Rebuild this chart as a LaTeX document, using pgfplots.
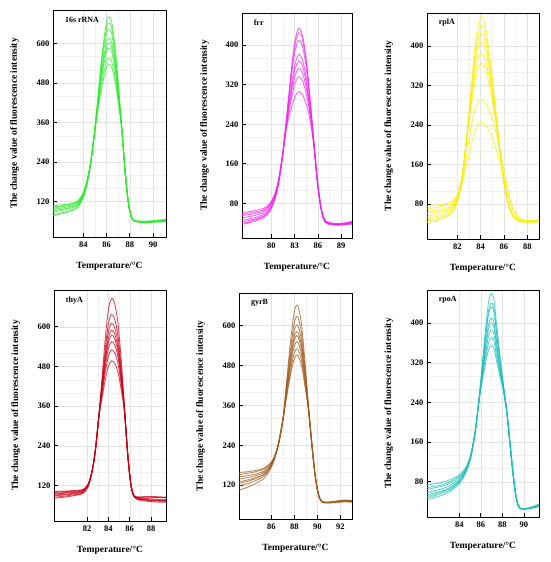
\documentclass[border=0pt]{standalone}
\usepackage{fontspec}
\setmainfont{Liberation Serif}
\usepackage{pgfplots}
\usepackage{pgfplotstable}
\pgfplotsset{compat=1.18}

\definecolor{cA}{RGB}{45,235,45}
\definecolor{cB}{RGB}{238,40,238}
\definecolor{cC}{RGB}{250,238,0}
\definecolor{cD}{RGB}{200,0,20}
\definecolor{cE}{RGB}{160,90,30}
\definecolor{cF}{RGB}{30,190,185}

\pgfplotstableread{
x a b c d e f g h
81.4 92 100 88 104 80 96 77 107
82.0 96 104 92 107 85 100 83 110
82.6 100 107 97 110 90 103 88 112
83.2 106 112 103 115 98 109 96 117
83.6 115 120 112 122 108 117 106 125
84.0 140 143 138 146 135 141 132 148
84.3 175 177 174 180 172 176 170 182
84.6 230 230 229 232 228 231 227 233
84.9 310 310 309 312 308 311 307 313
85.2 415 411 408 402 399 396 390 386
85.5 530 520 509 495 486 478 462 451
85.8 620 605 589 567 555 542 518 501
86.1 678 660 640 613 599 584 554 534
86.4 670 652 633 607 593 578 549 530
86.7 600 586 571 551 540 528 505 490
87.0 480 473 465 454 449 443 431 423
87.3 345 345 344 343 342 341 340 338
87.6 210 210 209 208 208 207 206 205
87.9 110 110 109 110 109 109 108 108
88.2 68 68 67 69 68 67 67 67
88.6 60 61 59 62 60 60 59 61
89.3 58 59 57 61 58 59 57 60
90.2 60 61 59 63 59 62 58 61
91.1 63 64 61 66 60 67 59 62
}\tA

\pgfplotstableread{
x a b c d e f g h
76.0 45 55 39 61 42 50 37 57
77.0 48 57 42 63 45 53 40 60
78.0 52 60 47 66 49 56 45 63
79.0 58 65 53 70 55 62 51 67
79.8 70 76 66 80 68 73 64 78
80.5 95 99 92 102 94 97 91 100
81.0 130 132 128 135 129 131 127 133
81.5 185 186 184 188 184 185 183 186
82.0 260 258 256 250 248 245 242 236
82.5 340 335 327 310 303 295 285 268
83.0 405 397 384 359 348 335 320 294
83.5 434 425 410 381 368 353 336 306
84.0 420 412 398 370 358 344 328 300
84.5 370 364 353 333 324 313 301 280
85.0 290 287 282 273 268 263 258 248
85.5 200 200 199 197 196 195 194 192
86.0 115 116 114 116 114 115 113 115
86.5 62 63 61 64 62 63 61 64
87.0 42 43 41 44 42 43 41 44
87.8 38 39 37 40 38 39 37 40
88.6 37 38 36 39 37 37 36 39
89.5 38 39 37 41 38 39 37 40
90.4 40 42 39 44 40 41 38 43
}\tB

\pgfplotstableread{
x a b c d e f g h
79.4 50 70 42 60 75 45 55 64
80.0 53 72 45 63 77 48 58 66
80.6 57 75 50 66 79 53 62 69
81.2 62 78 56 70 82 58 67 73
81.7 72 85 67 79 88 69 76 81
82.1 95 103 92 99 105 93 97 100
82.4 130 134 128 132 135 129 125 120
82.7 190 192 189 191 193 189 165 148
83.0 265 261 259 256 251 247 210 180
83.3 345 335 327 319 306 296 250 210
83.6 415 400 387 375 355 338 278 233
84.0 459 440 425 410 385 365 292 245
84.4 440 423 409 395 372 354 285 240
84.8 375 363 353 343 327 314 265 225
85.2 290 284 280 276 268 262 235 200
85.6 200 200 198 199 196 195 195 170
86.0 125 126 124 126 125 124 150 135
86.4 78 79 77 79 79 77 100 100
86.8 55 56 54 56 57 54 66 70
87.3 46 47 45 47 48 45 50 52
87.9 44 45 43 45 46 43 45 46
88.5 44 45 43 46 46 43 45 46
89.0 45 46 44 47 47 44 46 47
}\tC

\pgfplotstableread{
x a b c d e f g h
78.9 95 85 100 82 97 89 102 92
79.6 96 87 101 84 98 91 103 93
80.3 98 90 102 87 100 93 104 95
81.0 100 93 104 91 102 96 106 98
81.6 103 97 107 96 105 100 108 101
82.1 121 118 124 117 122 120 125 120
82.5 168 167 170 166 169 168 170 168
82.8 233 232 234 231 233 232 234 232
83.1 328 327 329 326 328 327 328 327
83.4 445 429 421 414 409 403 395 384
83.7 562 531 513 500 490 477 461 439
84.0 652 609 584 566 552 534 511 481
84.3 685 637 610 590 575 555 530 497
84.6 668 622 597 577 563 544 520 489
84.9 610 572 551 535 523 508 488 462
85.2 500 477 464 454 447 438 426 410
85.5 360 356 354 352 351 349 347 344
85.8 220 219 220 219 218 219 218 218
86.1 125 126 124 126 124 125 124 125
86.4 88 90 86 89 87 88 87 89
86.9 80 86 76 82 78 81 79 84
87.5 78 87 73 82 76 80 77 85
88.2 76 87 71 83 74 79 75 85
88.8 75 86 70 84 73 78 74 84
89.4 75 85 70 84 72 78 74 83
}\tD

\pgfplotstableread{
x a b c d e f g h
83.2 130 158 105 145 118 152 125 138
83.9 135 160 113 148 124 155 131 142
84.6 142 164 124 153 133 160 139 148
85.3 152 170 138 161 145 167 150 157
85.8 170 182 160 176 165 180 168 173
86.2 195 200 190 197 192 199 194 196
86.6 240 242 238 241 239 242 240 241
87.0 315 316 314 315 314 316 315 315
87.3 420 411 404 398 395 390 384 379
87.6 530 509 494 482 475 464 450 439
87.9 620 590 568 550 540 524 505 489
88.1 655 622 597 577 565 547 526 508
88.3 659 625 600 580 568 550 528 510
88.6 610 581 560 543 532 517 499 483
88.9 500 482 470 459 453 444 432 423
89.2 370 366 363 360 359 357 354 352
89.5 250 250 249 250 249 250 249 249
89.8 150 150 149 151 150 150 150 150
90.1 90 91 90 91 90 91 90 90
90.4 70 71 69 71 70 71 70 70
90.9 67 68 66 68 67 69 67 68
91.6 69 70 68 71 69 72 68 70
92.3 72 73 70 74 71 75 70 72
93.0 70 72 69 73 70 74 69 71
}\tE

\pgfplotstableread{
x a b c d e f g h
81.0 58 73 43 64 50 68 54 47
81.7 62 76 48 68 55 71 58 52
82.4 66 79 53 71 60 74 62 57
83.1 72 84 60 77 66 80 68 63
83.7 80 90 70 84 75 87 77 73
84.2 90 98 82 93 86 95 88 84
84.7 108 113 103 110 106 111 107 105
85.1 135 138 132 136 134 137 134 133
85.5 185 186 184 185 184 186 185 184
85.8 240 240 239 240 239 240 239 239
86.1 310 305 302 296 293 289 284 280
86.4 380 368 363 350 343 334 325 315
86.7 440 423 415 396 386 373 359 345
86.95 459 440 432 410 400 385 370 355
87.2 450 432 424 403 394 379 365 350
87.5 390 377 372 357 351 340 330 320
87.8 330 323 320 311 307 302 296 290
88.1 275 273 272 269 268 266 264 263
88.4 225 225 224 223 223 222 222 221
88.7 160 160 159 159 158 158 157 157
89.0 95 95 94 95 94 95 94 94
89.3 45 46 45 46 45 46 45 45
89.6 27 28 27 28 27 28 27 27
90.1 25 26 25 26 25 26 25 25
90.8 28 29 27 29 28 30 28 27
91.4 32 33 31 34 31 35 32 30
}\tF

\pgfplotsset{
  panel/.style={
    scale only axis,
    anchor=south west,
    axis line style={line width=0.9pt},
    tick pos=left, tick align=inside,
    major tick length=4pt, minor tick length=0pt,
    tick style={line width=0.8pt, black},
    grid=both,
    major grid style={black!11, line width=0.4pt},
    minor grid style={black!6, line width=0.3pt},
    minor x tick num=1, minor y tick num=2,
    ticklabel style={font=\bfseries\fontsize{8.5}{9}\selectfont},
    xticklabel style={yshift=-1.5pt},
    /pgf/number format/assume math mode=true,
    xlabel={Temperature/°C},
    ylabel={The change value of fluorescence intensity},
    label style={font=\bfseries\fontsize{9.5}{10}\selectfont},
    xlabel style={at={(axis description cs:0.5,0)}, anchor=center, yshift=-29pt},
    ylabel style={at={(axis description cs:-0.34,0.5)}, anchor=center},
    title style={at={(axis description cs:0.075,0.93)}, anchor=west, font=\bfseries\fontsize{8}{9}\selectfont},
  },
  crv/.style={line width=0.9pt, opacity=0.7, smooth, tension=0.5},
}

\begin{document}
\begin{tikzpicture}
\path[use as bounding box] (0,0) rectangle (550pt,562pt);

\begin{axis}[panel, at={(53pt,325pt)}, width=113pt, height=227pt,
  xmin=81.4, xmax=91.1, ymin=13, ymax=701,
  xtick={84,86,88,90}, ytick={120,240,360,480,600}, title={16s rRNA}]
\pgfplotsinvokeforeach{a,b,c,d,e,f,g,h}{\addplot[cA, crv] table[x=x,y=#1]{\tA};}
\end{axis}

\begin{axis}[panel, at={(242pt,324pt)}, width=110pt, height=225pt,
  xmin=76.2, xmax=90.4, ymin=10, ymax=465,
  xtick={80,83,86,89}, ytick={80,160,240,320,400}, title={frr}]
\pgfplotsinvokeforeach{a,b,c,d,e,f,g,h}{\addplot[cB, crv] table[x=x,y=#1]{\tB};}
\end{axis}

\begin{axis}[panel, at={(427pt,323pt)}, width=112pt, height=226pt,
  xmin=79.4, xmax=89.0, ymin=9, ymax=467,
  xtick={82,84,86,88}, ytick={80,160,240,320,400}, title={rplA}]
\pgfplotsinvokeforeach{a,b,c,d,e,f,g,h}{\addplot[cC, crv] table[x=x,y=#1]{\tC};}
\end{axis}

\begin{axis}[panel, at={(54pt,41pt)}, width=112pt, height=231pt,
  xmin=78.9, xmax=89.4, ymin=13, ymax=711,
  xtick={82,84,86,88}, ytick={120,240,360,480,600}, title={thyA}]
\pgfplotsinvokeforeach{a,b,c,d,e,f,g,h}{\addplot[cD, crv] table[x=x,y=#1]{\tD};}
\end{axis}

\begin{axis}[panel, at={(239pt,43pt)}, width=113pt, height=226pt,
  xmin=83.2, xmax=93.0, ymin=18, ymax=698,
  xtick={86,88,90,92}, ytick={120,240,360,480,600}, title={gyrB}]
\pgfplotsinvokeforeach{a,b,c,d,e,f,g,h}{\addplot[cE, crv] table[x=x,y=#1]{\tE};}
\end{axis}

\begin{axis}[panel, at={(427pt,45pt)}, width=112pt, height=227pt,
  xmin=81.0, xmax=91.4, ymin=9, ymax=467,
  xtick={84,86,88,90}, ytick={80,160,240,320,400}, title={rpoA}]
\pgfplotsinvokeforeach{a,b,c,d,e,f,g,h}{\addplot[cF, crv] table[x=x,y=#1]{\tF};}
\end{axis}
\end{tikzpicture}
\end{document}
